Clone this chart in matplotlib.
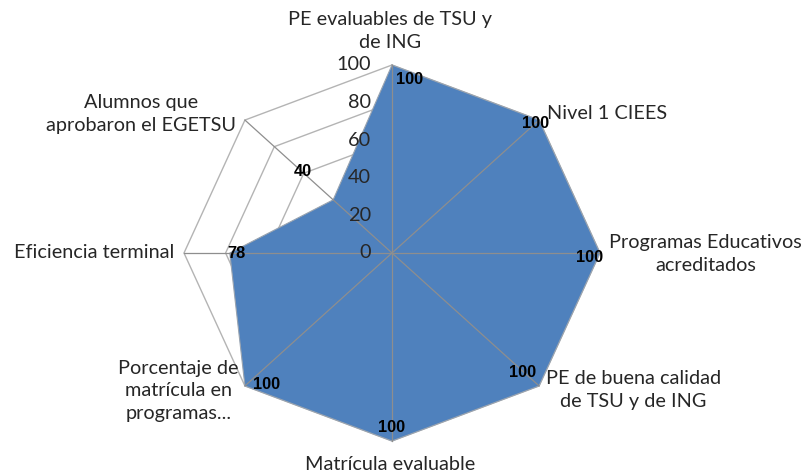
import numpy as np
import matplotlib
matplotlib.use('Agg')
import matplotlib.pyplot as plt

# ---- data ----
categories = ["PE evaluables de TSU y\nde ING", "Nivel 1 CIEES",
              "Programas Educativos\nacreditados", "PE de buena calidad\nde TSU y de ING",
              "Matrícula evaluable", "Porcentaje de\nmatrícula en\nprogramas...",
              "Eficiencia terminal", "Alumnos que\naprobaron el EGETSU"]
values = [100, 100, 100, 100, 100, 100, 78, 40]
radial_ticks = [0, 20, 40, 60, 80, 100]

# ---- style / layout ----
FILL = "#4F81BD"
label_font = "Lato"
cat_fs = 14.3
num_fs = 11.8
# category label placement: (offset px x, offset px y, ha)
cat_place = [(-2, 34, "center"), (8, 7, "left"), (9, -1, "left"), (7, -4, "left"),
             (-2, -24, "center"), (-6, -5, "right"), (-10, 0, "right"), (-9, 6, "right")]
# data label offsets (px)
val_off = [(18, -15), (-4, -3), (-10, -4), (-17, 13), (0, 14), (22, 1), (7, 0), (-30, 28)]

fig = plt.figure(figsize=(8.12, 4.72), dpi=100)
ax = fig.add_axes([0, 0, 1, 1])
sx, sy = 2.08, 1.88   # px per unit
cx, cy = 392, 253
ax.set_xlim(-cx / sx, (812 - cx) / sx)
ax.set_ylim((cy - 472) / sy, cy / sy)
ax.axis('off')

n = len(categories)
theta = np.deg2rad(90 - 360.0 / n * np.arange(n))
ct, st = np.cos(theta), np.sin(theta)

# rings
for r in radial_ticks[1:]:
    xs = np.append(r * ct, r * ct[0])
    ys = np.append(r * st, r * st[0])
    ax.plot(xs, ys, color="#b4b4b4", lw=1.0, zorder=1)

# filled series
vals = np.array(values, dtype=float)
ax.fill(vals * ct, vals * st, color=FILL, zorder=2, ec="#9aa4b0", lw=0.8)

# spokes
rmax = radial_ticks[-1]
for i in range(n):
    ax.plot([0, rmax * ct[i]], [0, rmax * st[i]], color="#8e8e8e", lw=0.9, zorder=3)

# radial tick labels
for r in radial_ticks:
    ax.annotate(str(r), xy=(0, r), xytext=(-21, 0), textcoords="offset pixels",
                ha="right", va="center", fontsize=cat_fs, color="#262626",
                family=label_font, zorder=4)

# category labels
for i, lab in enumerate(categories):
    dx, dy, ha = cat_place[i]
    ax.annotate(lab, xy=(rmax * ct[i], rmax * st[i]), xytext=(dx, dy),
                textcoords="offset pixels", ha=ha, va="center", ma="center",
                fontsize=cat_fs, color="#262626", family=label_font,
                linespacing=1.38, zorder=4, annotation_clip=False)

# data labels
for i, v in enumerate(values):
    dx, dy = val_off[i]
    ax.annotate(str(v), xy=(v * ct[i], v * st[i]), xytext=(dx, dy),
                textcoords="offset pixels", ha="center", va="center",
                fontsize=num_fs, fontweight="bold", color="black",
                family="Liberation Sans", zorder=5)

fig.savefig("out.png", dpi=100)
